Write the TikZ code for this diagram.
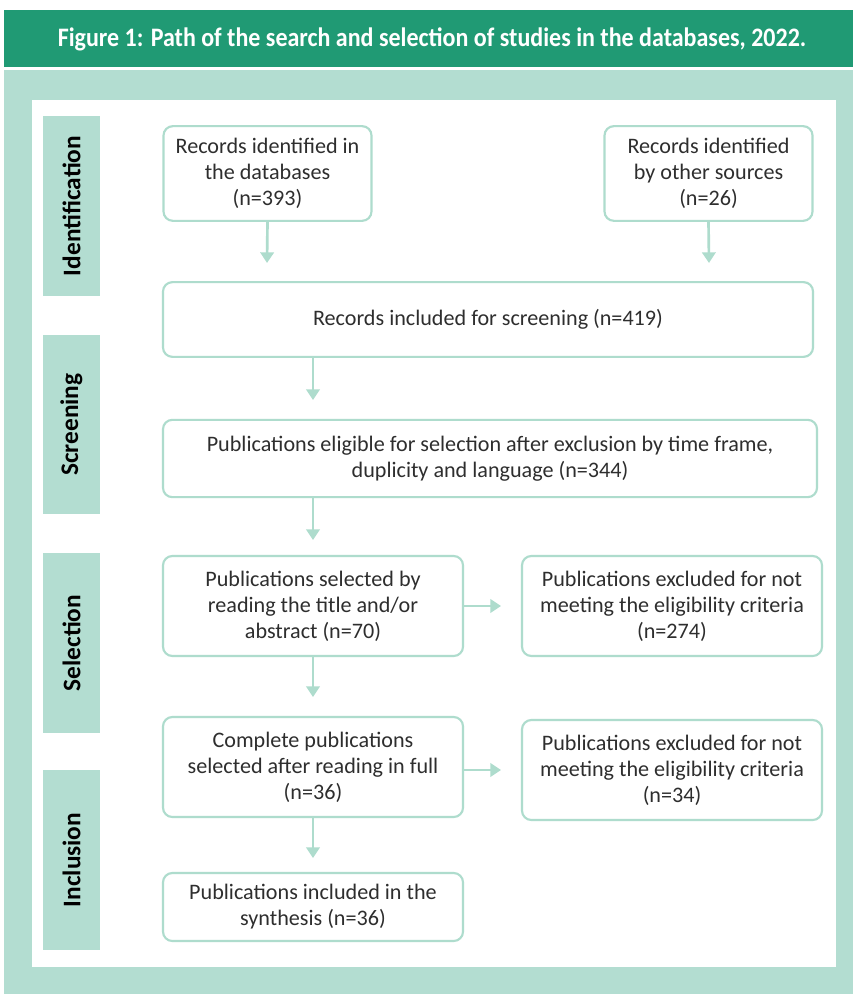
\documentclass[tikz,border=0pt]{standalone}
\usepackage{fontspec}
\setmainfont{Carlito}
\usetikzlibrary{arrows.meta}
\definecolor{headgreen}{HTML}{209A74}
\definecolor{panel}{HTML}{B3DDD1}
\definecolor{boxline}{HTML}{AEDCCD}
\definecolor{txt}{HTML}{2E2E2E}
\tikzset{
  box/.style={draw=boxline, line width=1.6pt, rounded corners=7pt, fill=white,
    align=center, text=txt, font=\fontsize{16.6}{19.5}\selectfont, inner sep=0pt},
  phase/.style={fill=panel},
  phasetext/.style={rotate=90, text=black, font=\bfseries\fontsize{19}{22}\selectfont},
  arr/.style={draw=boxline, line width=2pt, -{Triangle[width=10pt,length=8pt]}},
}
\begin{document}
\begin{tikzpicture}[x=0.75pt,y=-0.75pt]
\useasboundingbox (0,0) rectangle (853,994);
% header band and framed panel
\fill[headgreen] (4,10) rectangle (853,67);
\node[text=white, font=\bfseries\fontsize{20}{24}\selectfont] (title) at (432,39)
  {\scalebox{0.9}[1]{Figure 1: Path of the search and selection of studies in the databases, 2022.}};
\fill[panel] (4,70) rectangle (853,994);
\fill[white] (32,100) rectangle (836,967);
% phase labels
\fill[phase] (43,116) rectangle (100,296);
\node[phasetext] (pid) at (71.5,206) {Identification};
\fill[phase] (43,335) rectangle (100,514);
\node[phasetext] (psc) at (71.5,424.5) {Screening};
\fill[phase] (43,553) rectangle (100,733);
\node[phasetext] (pse) at (71.5,643) {Selection};
\fill[phase] (43,770) rectangle (100,950);
\node[phasetext] (pin) at (71.5,860) {Inclusion};
% boxes
\node[box, minimum width=156pt, minimum height=71pt] (A) at (267.5,173.5)
  {Records identified in\\the databases\\(n=393)};
\node[box, minimum width=156pt, minimum height=71pt] (B) at (708.5,173.5)
  {Records identified\\by other sources\\(n=26)};
\node[box, minimum width=487.5pt, minimum height=56pt] (C) at (488,319.5)
  {Records included for screening (n=419)};
\node[box, minimum width=490.5pt, minimum height=58pt] (D) at (490,458.5)
  {Publications eligible for selection after exclusion by time frame,\\duplicity and language (n=344)};
\node[box, minimum width=225pt, minimum height=75pt] (E) at (313,606)
  {Publications selected by\\reading the title and/or\\abstract (n=70)};
\node[box, minimum width=225pt, minimum height=75pt] (F) at (672,606)
  {Publications excluded for not\\meeting the eligibility criteria\\(n=274)};
\node[box, minimum width=225pt, minimum height=75pt] (G) at (313,767)
  {Complete publications\\selected after reading in full\\(n=36)};
\node[box, minimum width=225pt, minimum height=75pt] (H) at (672,770)
  {Publications excluded for not\\meeting the eligibility criteria\\(n=34)};
\node[box, minimum width=225pt, minimum height=51pt] (I) at (313,907)
  {Publications included in the\\synthesis (n=36)};
% arrow ends
\coordinate (a1) at (267,263);
\coordinate (a2) at (709,263);
\coordinate (a3) at (313,400);
\coordinate (a4) at (313,540);
\coordinate (a5) at (313,697);
\coordinate (a6) at (313,858);
\coordinate (r1) at (501,606);
\coordinate (r2) at (501,770);
% connectors
\draw[arr] (A.south) -- (a1);
\draw[arr] (B.south) -- (a2);
\draw[arr] (C.south -| a3) -- (a3);
\draw[arr] (D.south -| a4) -- (a4);
\draw[arr] (E.south) -- (a5);
\draw[arr] (G.south) -- (a6);
\draw[arr] (E.east) -- (r1);
\draw[arr] (G.east |- r2) -- (r2);
\end{tikzpicture}
\end{document}
